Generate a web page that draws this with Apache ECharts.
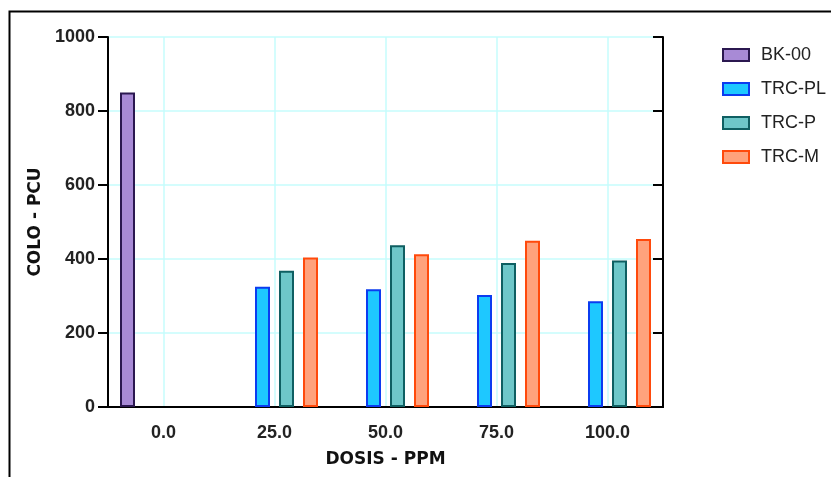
<!DOCTYPE html>
<html>
<head>
<meta charset="utf-8">
<script src="https://cdn.jsdelivr.net/npm/echarts@6/dist/echarts.min.js"></script>
<style>
  html, body { margin: 0; padding: 0; background: #fff; }
  #chart { width: 831px; height: 477px; }
</style>
</head>
<body>
<div id="chart"></div>
<script>
// categories (dose, ppm)
var dosis = ['0.0', '25.0', '50.0', '75.0', '100.0'];
var seriesNames = ['BK-00', 'TRC-PL', 'TRC-P', 'TRC-M'];
// colour PCU values
var bk00  = [850, null, null, null, null];
var trcPL = [null, 325, 318, 303, 286];
var trcP  = [null, 368, 437, 389, 396];
var trcM  = [null, 404, 413, 449, 454];

var fills   = ['#a88ad6', '#1ec8ff', '#6ec7c9', '#ffa27c'];
var borders = ['#2b1850', '#0b3cf0', '#0f5f62', '#ff4a0c'];

var chart = echarts.init(document.getElementById('chart'));

function bar(name, data, i) {
  return {
    name: name,
    type: 'bar',
    data: data,
    barWidth: 15,
    barGap: '60%',
    itemStyle: { color: fills[i], borderColor: borders[i], borderWidth: 2 }
  };
}

var axisTxt = { color: '#222', fontWeight: 'bold', fontSize: 18, fontFamily: 'Liberation Sans' };
var nameTxt = { color: '#111', fontWeight: 'bold', fontSize: 17, fontFamily: 'DejaVu Sans' };

chart.setOption({
  animation: false,
  graphic: [{
    type: 'rect', silent: true,
    shape: { x: 9.5, y: 11.5, width: 900, height: 600 },
    style: { fill: 'none', stroke: '#000', lineWidth: 2 }
  }],
  legend: {
    orient: 'vertical',
    left: 717, top: 41,
    icon: 'rect',
    itemWidth: 26, itemHeight: 12,
    itemGap: 16,
    textStyle: { color: '#222', fontSize: 18, fontFamily: 'Liberation Sans', padding: [0, 0, 0, 7] },
    data: seriesNames
  },
  grid: { left: 108, right: 168, top: 37, bottom: 70 },
  xAxis: [{
    type: 'category',
    data: dosis,
    name: 'DOSIS - PPM',
    nameLocation: 'middle',
    nameGap: 44,
    nameTextStyle: nameTxt,
    axisLine: { lineStyle: { color: '#000', width: 2 } },
    axisTick: { alignWithLabel: true, length: 8, lineStyle: { color: '#000', width: 2 } },
    axisLabel: Object.assign({ margin: 17 }, axisTxt),
    splitLine: { show: true, alignWithLabel: true, lineStyle: { color: '#c6fcfc', width: 1.5 } }
  }, {
    type: 'category',
    data: dosis,
    position: 'top',
    axisLine: { lineStyle: { color: '#000', width: 2 } },
    axisTick: { alignWithLabel: true, inside: true, length: 10, lineStyle: { color: '#000', width: 2 } },
    axisLabel: { show: false },
    splitLine: { show: false }
  }],
  yAxis: [{
    type: 'value',
    min: 0, max: 1000, interval: 200,
    name: 'COLO - PCU',
    nameLocation: 'middle',
    nameGap: 64,
    nameTextStyle: nameTxt,
    axisLine: { show: true, lineStyle: { color: '#000', width: 2 } },
    axisTick: { show: true, length: 10, lineStyle: { color: '#000', width: 2 } },
    axisLabel: Object.assign({ margin: 13, formatter: function (v) { return String(v); } }, axisTxt),
    splitLine: { show: true, lineStyle: { color: '#c6fcfc', width: 1.5 } }
  }, {
    type: 'value',
    min: 0, max: 1000, interval: 200,
    position: 'right',
    axisLine: { show: true, lineStyle: { color: '#000', width: 2 } },
    axisTick: { show: true, inside: true, length: 10, lineStyle: { color: '#000', width: 2 } },
    axisLabel: { show: false },
    splitLine: { show: false }
  }],
  series: [
    bar('BK-00', bk00, 0),
    bar('TRC-PL', trcPL, 1),
    bar('TRC-P', trcP, 2),
    bar('TRC-M', trcM, 3)
  ]
});
</script>
</body>
</html>
